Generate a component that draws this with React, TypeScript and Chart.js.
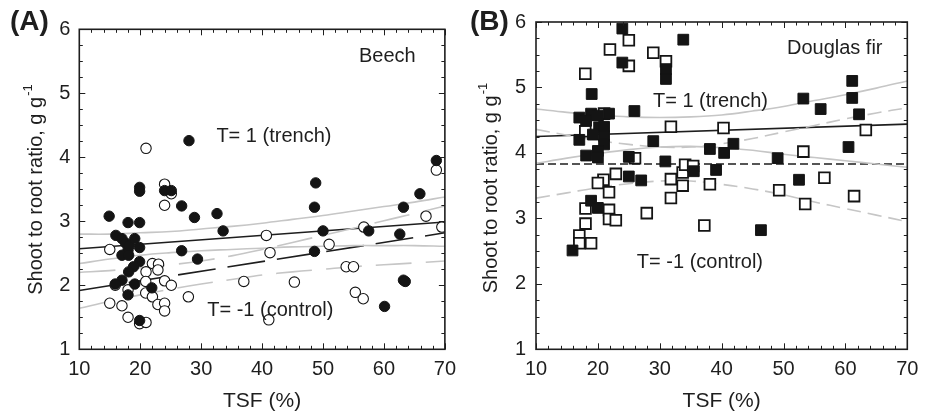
import React, { useEffect, useRef } from 'react';
import { Chart, registerables } from 'chart.js';

Chart.register(...registerables);

// ---------------- data ----------------
const xTickValues = [10, 20, 30, 40, 50, 60, 70];
const yTickValues = [1, 2, 3, 4, 5, 6];
const xMinorStep = 2;
const yMinorStep = 0.25;

const ciX = [10, 15, 20, 25, 30, 35, 40, 45, 50, 55, 60, 65, 70];
const fitX = [10, 70];

// Panel A: Beech (circles)
const beechTrenchX = [14.9, 16.0, 17.0, 17.6, 18.0, 18.0, 18.2, 17.0, 18.1, 19.1, 19.9, 19.9, 19.9, 18.9, 18.1, 17.0, 15.9, 19.1, 21.9, 18.0, 19.9, 19.9, 19.9, 24.0, 25.1, 26.8, 28.9, 28.0, 26.8, 29.4, 32.6, 33.6, 48.8, 48.6, 50.0, 48.6, 57.5, 62.6, 63.2, 65.9, 68.6, 63.2, 63.5, 60.1];
const beechTrenchY = [3.08, 2.78, 2.73, 2.66, 2.98, 2.55, 2.62, 2.47, 2.47, 2.73, 2.98, 2.59, 2.37, 2.29, 2.21, 2.08, 2.02, 2.02, 1.96, 1.85, 1.45, 3.53, 3.47, 3.48, 3.48, 3.24, 3.06, 4.26, 2.54, 2.41, 3.12, 2.85, 3.60, 3.22, 2.85, 2.53, 2.85, 2.80, 3.22, 3.43, 3.95, 2.08, 2.06, 1.67];
const beechControlX = [20.95, 24.0, 25.1, 24.0, 15.0, 22.0, 23.0, 20.95, 22.9, 20.9, 24.0, 25.1, 20.9, 22.0, 15.0, 17.0, 22.9, 24.0, 24.0, 18.0, 19.9, 20.95, 18.0, 27.9, 15.9, 68.6, 66.9, 69.5, 56.7, 40.7, 41.3, 51.0, 53.8, 55.0, 37.0, 45.3, 55.3, 56.6, 41.1];
const beechControlY = [4.14, 3.58, 3.43, 3.25, 2.56, 2.34, 2.33, 2.21, 2.24, 2.06, 2.07, 2.00, 1.88, 1.82, 1.72, 1.68, 1.70, 1.72, 1.60, 1.50, 1.40, 1.42, 1.93, 1.82, 2.00, 3.80, 3.08, 2.91, 2.91, 2.78, 2.51, 2.64, 2.29, 2.29, 2.06, 2.05, 1.89, 1.79, 1.46];
const beechFitTrenchY = [2.57, 2.99];
const beechFitControlY = [1.92, 2.82];
const beechCiTrenchUpper = [2.80, 2.80, 2.82, 2.84, 2.88, 2.92, 2.97, 3.03, 3.09, 3.16, 3.23, 3.30, 3.38];
const beechCiTrenchLower = [2.34, 2.41, 2.47, 2.51, 2.54, 2.56, 2.58, 2.60, 2.61, 2.62, 2.62, 2.62, 2.61];
const beechCiControlUpper = [2.20, 2.23, 2.27, 2.32, 2.38, 2.46, 2.56, 2.67, 2.78, 2.89, 3.01, 3.12, 3.24];
const beechCiControlLower = [1.64, 1.75, 1.85, 1.94, 2.02, 2.09, 2.16, 2.21, 2.25, 2.29, 2.32, 2.35, 2.38];

// Panel B: Douglas fir (squares)
const firTrenchX = [23.95, 33.8, 23.95, 31.0, 31.0, 19.0, 17.0, 18.9, 20.0, 21.8, 18.1, 20.2, 21.0, 19.2, 21.0, 17.0, 21.0, 20.0, 18.1, 20.0, 25.9, 28.95, 25.0, 30.9, 25.0, 27.0, 18.9, 20.0, 15.9, 53.2, 56.0, 61.1, 61.1, 62.2, 60.5, 41.9, 38.1, 40.4, 49.05, 35.5, 39.1, 52.5, 46.35];
const firTrenchY = [5.90, 5.73, 5.38, 5.28, 5.13, 4.90, 4.54, 4.60, 4.57, 4.60, 4.49, 4.39, 4.40, 4.28, 4.26, 4.20, 4.13, 4.03, 3.96, 3.93, 4.64, 4.18, 3.94, 3.87, 3.64, 3.58, 3.27, 3.16, 2.51, 4.83, 4.67, 5.10, 4.84, 4.59, 4.09, 4.14, 4.06, 4.00, 3.92, 3.72, 3.74, 3.59, 2.82];
const firControlX = [25.0, 21.95, 28.95, 25.0, 17.96, 31.0, 31.8, 17.96, 21.0, 26.0, 22.9, 20.9, 20.0, 21.8, 18.0, 21.8, 21.8, 22.9, 18.0, 17.0, 17.0, 18.9, 27.9, 31.8, 31.8, 33.7, 33.7, 40.3, 63.3, 53.2, 34.1, 35.4, 38.1, 56.6, 49.3, 61.4, 53.5, 37.2];
const firControlY = [5.72, 5.58, 5.53, 5.33, 5.21, 5.40, 4.40, 4.33, 4.60, 3.92, 3.68, 3.59, 3.54, 3.40, 3.15, 3.13, 2.99, 2.97, 2.92, 2.74, 2.62, 2.62, 3.08, 3.60, 3.31, 3.70, 3.50, 4.38, 4.35, 4.02, 3.82, 3.80, 3.52, 3.62, 3.43, 3.34, 3.22, 2.89];
const firFitTrenchY = [4.25, 4.44];
const firFitControlY = [3.83, 3.83];
const firCiTrenchUpper = [4.67, 4.62, 4.58, 4.55, 4.54, 4.55, 4.58, 4.64, 4.71, 4.80, 4.89, 4.99, 5.10];
const firCiTrenchLower = [3.84, 3.92, 3.99, 4.05, 4.09, 4.10, 4.08, 4.04, 3.98, 3.93, 3.88, 3.83, 3.78];
const firCiControlUpper = [4.36, 4.27, 4.19, 4.13, 4.09, 4.09, 4.14, 4.22, 4.32, 4.42, 4.52, 4.61, 4.69];
const firCiControlLower = [3.31, 3.39, 3.47, 3.53, 3.57, 3.57, 3.52, 3.45, 3.36, 3.25, 3.15, 3.05, 2.95];

// ---------------- styling ----------------
const FONT = "'Liberation Sans', Arial, Helvetica, sans-serif";
const INK = '#1e1e1e';
const GRAY = '#c6c6c6';
const W = 464;
const H = 416;

const pts = (xs: number[], ys: number[]) => xs.map((x, i) => ({ x, y: ys[i] }));

type Spec = {
  letter: string;
  letterX: number;
  species: string;
  speciesAt: [number, number];
  trenchAt: [number, number];
  controlAt: [number, number];
  pointStyle: string;
  radius: number;
  openBorder: number;
  trenchX: number[]; trenchY: number[];
  controlX: number[]; controlY: number[];
  fitTrenchY: number[]; fitControlY: number[];
  ciTU: number[]; ciTL: number[]; ciCU: number[]; ciCL: number[];
  area: { left: number; right: number; top: number; bottom: number };
  tickPad: number;
  yTitleX: number; yTitleY: number;
  controlDash: number[]; ciControlDash: number[];
};

const specA: Spec = {
  letter: '(A)', letterX: 10,
  species: 'Beech', speciesAt: [55.9, 5.57],
  trenchAt: [32.5, 4.32], controlAt: [31.0, 1.61],
  pointStyle: 'circle', radius: 5.2, openBorder: 1.1,
  trenchX: beechTrenchX, trenchY: beechTrenchY,
  controlX: beechControlX, controlY: beechControlY,
  fitTrenchY: beechFitTrenchY, fitControlY: beechFitControlY,
  ciTU: beechCiTrenchUpper, ciTL: beechCiTrenchLower, ciCU: beechCiControlUpper, ciCL: beechCiControlLower,
  area: { left: 79.3, right: 446, top: 29.3, bottom: 349.3 },
  tickPad: 9,
  yTitleX: 35, yTitleY: 189.5,
  controlDash: [38, 12], ciControlDash: [36, 14],
};

const specB: Spec = {
  letter: '(B)', letterX: 6,
  species: 'Douglas fir', speciesAt: [50.55, 5.6],
  trenchAt: [28.9, 4.79], controlAt: [26.3, 2.33],
  pointStyle: 'rect', radius: 7.6, openBorder: 1.8,
  trenchX: firTrenchX, trenchY: firTrenchY,
  controlX: firControlX, controlY: firControlY,
  fitTrenchY: firFitTrenchY, fitControlY: firFitControlY,
  ciTU: firCiTrenchUpper, ciTL: firCiTrenchLower, ciCU: firCiControlUpper, ciCL: firCiControlLower,
  area: { left: 72, right: 443.3, top: 20.7, bottom: 349.3 },
  tickPad: 10,
  yTitleX: 25.5, yTitleY: 188,
  controlDash: [8, 4], ciControlDash: [14, 7],
};

function lineDs(xs: number[], ys: number[], color: string, dash: number[], width: number, tension: number) {
  return {
    data: pts(xs, ys),
    showLine: true,
    borderColor: color,
    borderWidth: width,
    borderDash: dash,
    pointRadius: 0,
    tension,
    fill: false,
    order: 3,
  };
}

function buildChart(canvas: HTMLCanvasElement, s: Spec) {
  const decor = {
    id: 'decor',
    afterDatasetsDraw(chart: any) {
      const { ctx, chartArea: a, scales } = chart;
      const x = scales.x;
      const y = scales.y;
      ctx.save();
      ctx.strokeStyle = INK;
      ctx.lineWidth = 1;
      const xMin = xTickValues[0];
      const xMax = xTickValues[xTickValues.length - 1];
      for (let v = xMin; v <= xMax + 1e-9; v += xMinorStep) {
        const major = xTickValues.some((t) => Math.abs(t - v) < 1e-6);
        const len = major ? 6 : 3.5;
        const px = Math.round(x.getPixelForValue(v)) + 0.5;
        ctx.beginPath();
        ctx.moveTo(px, a.bottom); ctx.lineTo(px, a.bottom - len);
        ctx.moveTo(px, a.top); ctx.lineTo(px, a.top + len);
        ctx.stroke();
      }
      const yMin = yTickValues[0];
      const yMax = yTickValues[yTickValues.length - 1];
      for (let v = yMin; v <= yMax + 1e-9; v += yMinorStep) {
        const major = yTickValues.some((t) => Math.abs(t - v) < 1e-6);
        const len = major ? 6 : 3.5;
        const py = Math.round(y.getPixelForValue(v)) + 0.5;
        ctx.beginPath();
        ctx.moveTo(a.left, py); ctx.lineTo(a.left + len, py);
        ctx.moveTo(a.right, py); ctx.lineTo(a.right - len, py);
        ctx.stroke();
      }
      ctx.lineWidth = 1.6;
      ctx.strokeRect(a.left, a.top, a.right - a.left, a.bottom - a.top);
      ctx.restore();
    },
    afterDraw(chart: any) {
      const { ctx, scales } = chart;
      const x = scales.x;
      const y = scales.y;
      ctx.save();
      ctx.fillStyle = INK;
      ctx.textBaseline = 'middle';
      ctx.textAlign = 'left';
      ctx.font = `20px ${FONT}`;
      const put = (t: string, at: [number, number]) =>
        ctx.fillText(t, x.getPixelForValue(at[0]), y.getPixelForValue(at[1]));
      put(s.species, s.speciesAt);
      put('T= 1 (trench)', s.trenchAt);
      put('T= -1 (control)', s.controlAt);

      ctx.font = `bold 28px ${FONT}`;
      ctx.fillText(s.letter, s.letterX, 22);

      // y-axis title with superscript
      ctx.translate(s.yTitleX, s.yTitleY);
      ctx.rotate(-Math.PI / 2);
      const main = 'Shoot to root ratio, g g';
      const sup = '-1';
      ctx.font = `20px ${FONT}`;
      const w1 = ctx.measureText(main).width;
      ctx.font = `13px ${FONT}`;
      const w2 = ctx.measureText(sup).width;
      const total = w1 + w2 + 1;
      ctx.textBaseline = 'alphabetic';
      ctx.font = `20px ${FONT}`;
      ctx.fillText(main, -total / 2, 7);
      ctx.font = `13px ${FONT}`;
      ctx.fillText(sup, -total / 2 + w1 + 1, -3);
      ctx.restore();
    },
  };

  return new Chart(canvas, {
    type: 'scatter',
    data: {
      datasets: [
        {
          data: pts(s.trenchX, s.trenchY),
          pointStyle: s.pointStyle,
          pointRadius: s.radius,
          backgroundColor: '#141414',
          borderColor: '#141414',
          borderWidth: 1,
          order: 1,
        },
        {
          data: pts(s.controlX, s.controlY),
          pointStyle: s.pointStyle,
          pointRadius: s.radius,
          backgroundColor: '#ffffff',
          borderColor: '#141414',
          borderWidth: s.openBorder,
          order: 2,
        },
        lineDs(ciX, s.ciTU, GRAY, [], 1.6, 0.4),
        lineDs(ciX, s.ciTL, GRAY, [], 1.6, 0.4),
        lineDs(ciX, s.ciCU, GRAY, s.ciControlDash, 1.6, 0.4),
        lineDs(ciX, s.ciCL, GRAY, s.ciControlDash, 1.6, 0.4),
        lineDs(fitX, s.fitTrenchY, INK, [], 1.6, 0),
        lineDs(fitX, s.fitControlY, INK, s.controlDash, 1.6, 0),
      ] as any,
    },
    options: {
      responsive: false,
      animation: false,
      events: [],
      layout: {
        padding: { top: s.area.top, right: W - s.area.right, left: 0, bottom: 0 },
      },
      plugins: { legend: { display: false }, tooltip: { enabled: false } },
      scales: {
        x: {
          type: 'linear',
          min: xTickValues[0],
          max: xTickValues[xTickValues.length - 1],
          afterBuildTicks: (sc: any) => { sc.ticks = xTickValues.map((v) => ({ value: v })); },
          afterFit: (sc: any) => { sc.height = H - s.area.bottom; },
          grid: { display: false, drawTicks: false },
          border: { display: false },
          ticks: { padding: 8, color: INK, font: { family: FONT, size: 20 }, maxRotation: 0 },
          title: { display: true, text: 'TSF (%)', color: INK, font: { family: FONT, size: 21 }, padding: { top: 0, bottom: 2 } },
        },
        y: {
          type: 'linear',
          min: yTickValues[0],
          max: yTickValues[yTickValues.length - 1],
          afterBuildTicks: (sc: any) => { sc.ticks = yTickValues.map((v) => ({ value: v })); },
          afterFit: (sc: any) => { sc.width = s.area.left; },
          grid: { display: false, drawTicks: false },
          border: { display: false },
          ticks: { padding: s.tickPad, color: INK, font: { family: FONT, size: 20 } },
        },
      },
    } as any,
    plugins: [decor],
  });
}

function Panel({ spec, left }: { spec: Spec; left: number }) {
  const ref = useRef<HTMLCanvasElement | null>(null);
  useEffect(() => {
    if (!ref.current) return;
    const c = buildChart(ref.current, spec);
    return () => c.destroy();
  }, [spec]);
  return (
    <canvas
      ref={ref}
      width={W}
      height={H}
      style={{ position: 'absolute', left, top: 0, width: W, height: H }}
    />
  );
}

export default function App() {
  return (
    <div style={{ position: 'fixed', left: 0, top: 0, width: 928, height: 416, background: '#fff', overflow: 'hidden' }}>
      <Panel spec={specA} left={0} />
      <Panel spec={specB} left={464} />
    </div>
  );
}
